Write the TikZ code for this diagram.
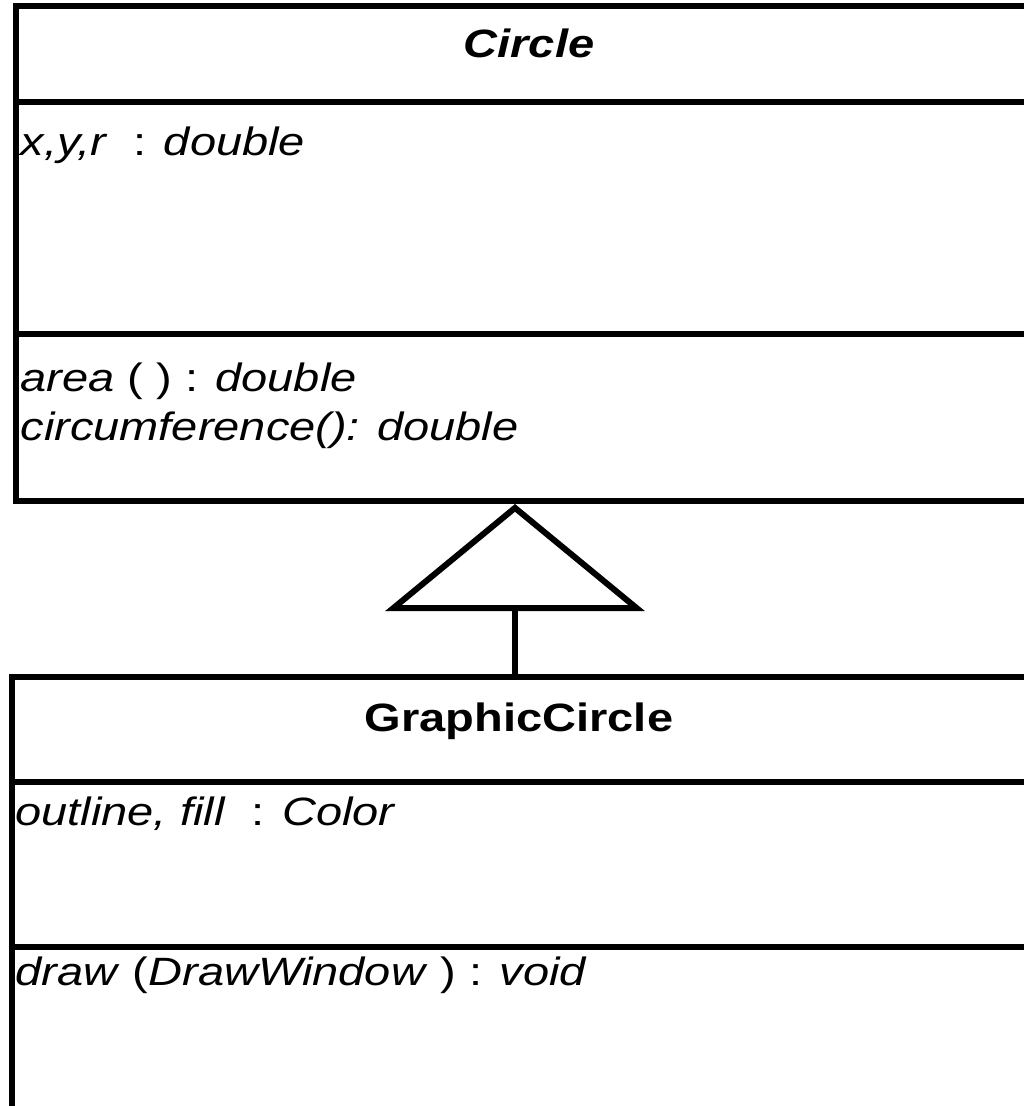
\documentclass[tikz,border=0pt]{standalone}
\usepackage{fontspec}
\setmainfont{Liberation Sans}[FakeStretch=1.19]
\usepackage{tikz}
\usetikzlibrary{arrows.meta,positioning}

\begin{document}
\begin{tikzpicture}[x=0.4pt, y=-0.4pt,
  classbox/.style={draw, line width=2.4pt, inner sep=0pt, outer sep=0pt},
  classname/.style={anchor=base, inner sep=0pt, font=\fontsize{15.8}{19}\selectfont\bfseries},
  member/.style={anchor=base west, inner sep=0pt, font=\fontsize{15.8}{19}\selectfont},
  divider/.style={line width=2.4pt},
  inherit/.style={-{Triangle[open, length=42.8pt, width=103.5pt]}, line width=2.4pt, shorten >=1.2pt}
]
\useasboundingbox (0,0) rectangle (1024,1106);
\clip (0,0) rectangle (1024,1106);

% Superclass.
\node[classbox, minimum width=405.4pt, minimum height=198pt] (circle) at (523.25,253.5) {};
\node[classname] (circlename) at (529,57) {\textit{Circle}};
\draw[divider] (circle.west |- 0,102) -- (circle.east |- 0,102);
\draw[divider] (circle.west |- 0,334) -- (circle.east |- 0,334);
\node[member] (circleattr) at (20,155) {\textit{x,y,r}\ \ : \textit{double}};
\node[member] (circleop1) at (20,391) {\textit{area} ( ) : \textit{double}};
\node[member] (circleop2) at (20,440) {\textit{circumference(): double}};

% Subclass, cut off by the frame.
\node[classbox, minimum width=407.2pt, minimum height=181.2pt] (graphic) at (521,903.5) {};
\node[classname] (graphicname) at (519,731) {GraphicCircle};
\draw[divider] (graphic.west |- 0,782) -- (graphic.east |- 0,782);
\draw[divider] (graphic.west |- 0,947) -- (graphic.east |- 0,947);
\node[member] (graphicattr) at (15,825) {\textit{outline, fill}\ \ : \textit{Color}};
\node[member] (graphicop) at (15,985) {\textit{draw} (\textit{DrawWindow} ) : \textit{void}};

% Generalisation.
\draw[inherit] (graphic.north -| 515,0) -- (circle.south -| 515,0);

\end{tikzpicture}
\end{document}
